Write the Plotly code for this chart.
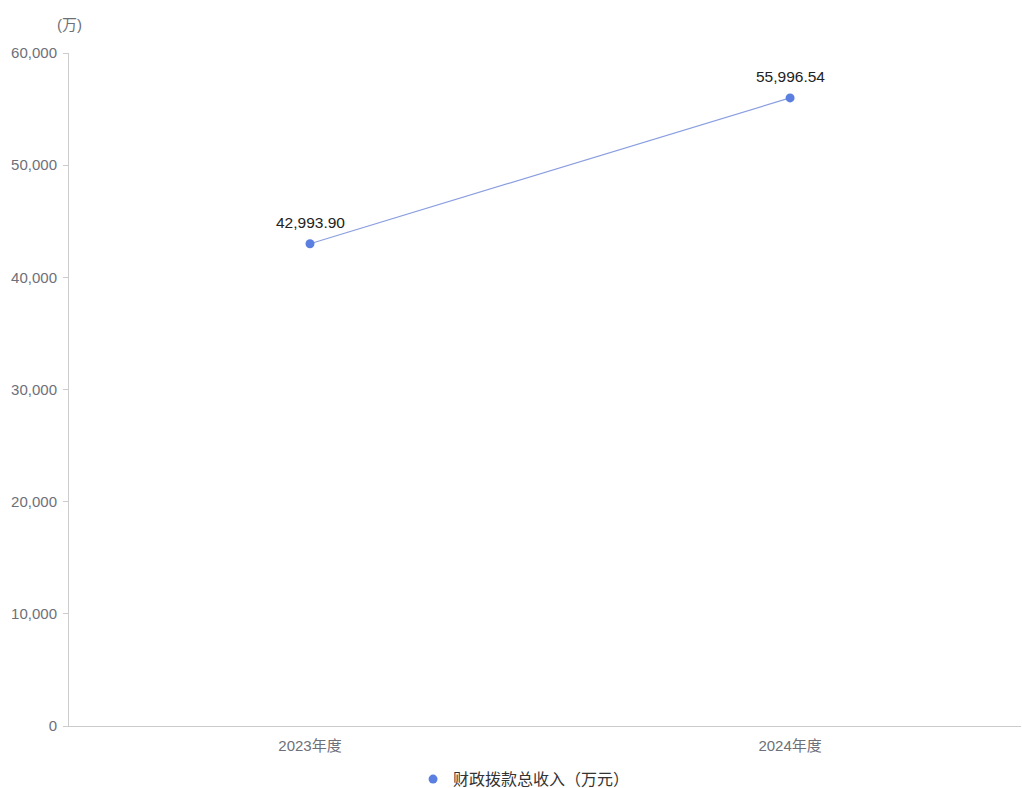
import plotly.graph_objects as go

categories = ["2023年度", "2024年度"]
values = [42993.90, 55996.54]
value_labels = ["42,993.90", "55,996.54"]
series_name = "财政拨款总收入（万元）"
y_ticks = [0, 10000, 20000, 30000, 40000, 50000, 60000]
y_tick_labels = ["0", "10,000", "20,000", "30,000", "40,000", "50,000", "60,000"]

FONT = "Liberation Sans, Noto Sans CJK SC, sans-serif"
x_pos = list(range(len(categories)))

fig = go.Figure()
fig.add_trace(go.Scatter(
    x=x_pos, y=values, mode="lines+markers",
    name=series_name, showlegend=False,
    line=dict(color="#8a9ee0", width=1.2),
    marker=dict(color="#5b7fe0", size=9),
    cliponaxis=False,
))
# legend entry: marker only
fig.add_trace(go.Scatter(
    x=[None], y=[None], mode="markers", name=series_name,
    marker=dict(color="#5b7fe0", size=9),
))

annotations = [
    dict(x=xv, y=yv, text=lbl, showarrow=False, yanchor="bottom", yshift=11,
         font=dict(size=15.5, color="#222222"))
    for xv, yv, lbl in zip(x_pos, values, value_labels)
]
annotations.append(dict(
    text="(万)", xref="paper", yref="paper", x=0.0, y=1.0,
    xanchor="center", yanchor="bottom", yshift=18, showarrow=False,
    font=dict(size=15, color="#6e7079"),
))

fig.update_layout(
    width=1022, height=788,
    margin=dict(l=69, r=1, t=53, b=62, autoexpand=False),
    plot_bgcolor="white", paper_bgcolor="white",
    font=dict(family=FONT, size=15, color="#6e7079"),
    showlegend=True,
    legend=dict(orientation="h", x=0.478, xanchor="center", y=-0.079, yanchor="middle",
                font=dict(size=16, color="#333333"), itemwidth=30),
    xaxis=dict(
        range=[-0.502, 1.481],
        tickvals=x_pos, ticktext=categories,
        showgrid=False, zeroline=False,
        showline=True, linecolor="#cccccc", linewidth=1,
        ticks="", tickfont=dict(size=15, color="#6e7079"),
        ticklabelstandoff=6,
    ),
    yaxis=dict(
        range=[0, 60000],
        tickvals=y_ticks, ticktext=y_tick_labels,
        showgrid=False, zeroline=False,
        showline=True, linecolor="#cccccc", linewidth=1,
        ticks="outside", ticklen=5, tickcolor="#cccccc",
        tickfont=dict(size=15, color="#6e7079"),
        ticklabelstandoff=3,
    ),
    annotations=annotations,
)

fig.write_html("out.html", config={"displayModeBar": False},
               post_script="document.body.style.margin='0';document.body.style.overflow='hidden';")
